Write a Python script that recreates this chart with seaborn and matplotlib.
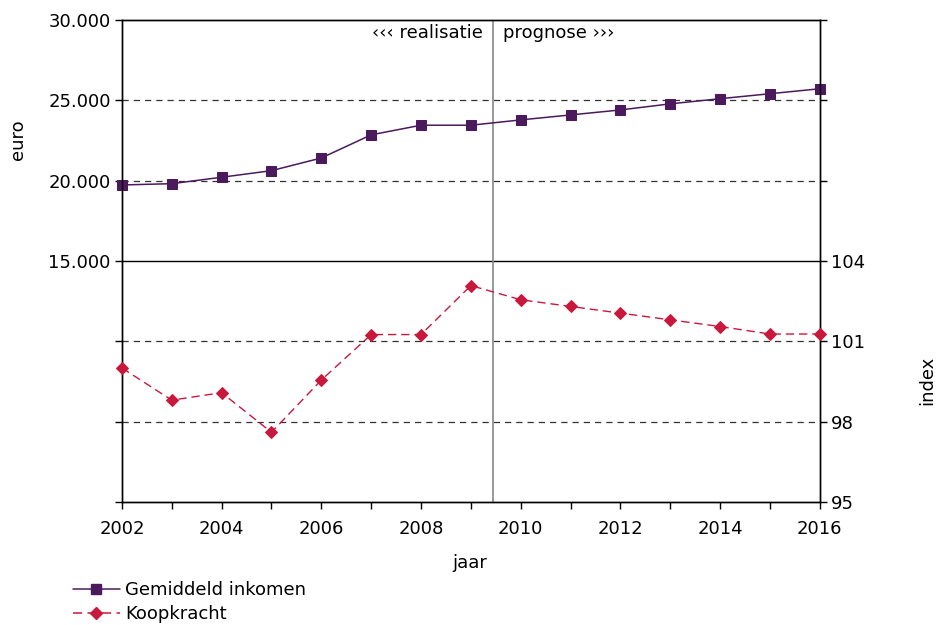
import pandas as pd
import matplotlib
matplotlib.use('Agg')
import matplotlib.pyplot as plt
from matplotlib.lines import Line2D
import seaborn as sns

# 数据
jaren = list(range(2002, 2017))
inkomen = [19730, 19810, 20210, 20620, 21410, 22850, 23450, 23450,
           23780, 24090, 24400, 24780, 25100, 25410, 25720]
koopkracht = [100.0, 98.8, 99.08, 97.6, 99.55, 101.25, 101.25, 103.08,
              102.55, 102.3, 102.05, 101.8, 101.55, 101.27, 101.27]

euro_ticks = [0, 5000, 10000, 15000, 20000, 25000, 30000]
euro_labels = ['', '', '', '15.000', '20.000', '25.000', '30.000']
index_ticks = [95, 98, 101, 104, 107, 110, 113]
index_labels = ['95', '98', '101', '104', '', '', '']

paars = '#4a1a5c'
rood = '#c8193c'


def main():
    sns.set_style('white')
    plt.rcParams['font.family'] = ['DejaVu Sans']
    plt.rcParams['font.size'] = 13
    plt.rcParams['text.color'] = 'black'
    plt.rcParams['xtick.color'] = 'black'
    plt.rcParams['ytick.color'] = 'black'
    plt.rcParams['axes.labelcolor'] = 'black'

    df = pd.DataFrame({'jaar': jaren, 'inkomen': inkomen, 'koopkracht': koopkracht})

    fig = plt.figure(figsize=(9.38, 6.25), dpi=100)
    ax = fig.add_axes([0.130, 0.197, 0.744, 0.771])
    ax2 = ax.twinx()

    # gridlijnen
    for v in [5000, 10000, 20000, 25000]:
        ax.axhline(v, color='#333333', lw=0.9, dashes=(5, 4), zorder=1)
    ax.axhline(15000, color='black', lw=1.0, zorder=1)
    ax.axvline(2009.45, color='#888888', lw=1.2, zorder=1)

    sns.lineplot(data=df, x='jaar', y='inkomen', ax=ax, color=paars, lw=1.1,
                 marker='s', markersize=7, markeredgecolor=paars, clip_on=False, zorder=3)
    sns.lineplot(data=df, x='jaar', y='koopkracht', ax=ax2, color=rood, lw=1.0,
                 marker='D', markersize=6, markeredgecolor=rood, clip_on=False, zorder=3)
    ax2.lines[-1].set_dashes((6, 3.5))

    ax.set_xlim(2002, 2016)
    ax.set_ylim(0, 30000)
    ax2.set_ylim(95, 113)
    ax.set_yticks(euro_ticks)
    ax.set_yticklabels(euro_labels)
    ax2.set_yticks(index_ticks)
    ax2.set_yticklabels(index_labels)
    ax.set_xticks(range(2002, 2017, 2))
    ax.set_xticks(range(2002, 2017), minor=True)
    ax.set_xticklabels([str(j) for j in range(2002, 2017, 2)])

    ax.tick_params(axis='y', direction='out', length=5, width=1, pad=3, left=True)
    ax2.tick_params(axis='y', direction='out', length=5, width=1, pad=3, right=True)
    ax.tick_params(axis='x', which='both', direction='out', length=5, width=1, pad=8, bottom=True)

    for a in (ax, ax2):
        for s in a.spines.values():
            s.set_color('black')
            s.set_linewidth(1.0)

    ax.set_xlabel('')
    ax.set_ylabel('')
    ax2.set_ylabel('')
    fig.text(0.019, 0.776, 'euro', rotation=90, ha='center', va='center', fontsize=13)
    fig.text(0.989, 0.392, 'index', rotation=90, ha='center', va='center', fontsize=13)
    fig.text(0.501, 0.099, 'jaar', ha='center', va='center', fontsize=13)

    ax.text(2009.25, 29200, '\u2039\u2039\u2039 realisatie', ha='right', va='center', fontsize=13)
    ax.text(2009.65, 29200, 'prognose \u203a\u203a\u203a', ha='left', va='center', fontsize=13)

    handles = [
        Line2D([], [], color=paars, lw=1.1, marker='s', markersize=7),
        Line2D([], [], color=rood, lw=1.1, marker='D', markersize=6, dashes=(6, 3.5)),
    ]
    fig.legend(handles, ['Gemiddeld inkomen', 'Koopkracht'], loc='upper left',
               bbox_to_anchor=(0.068, 0.085), frameon=False, fontsize=13,
               handlelength=2.6, handletextpad=0.3, labelspacing=0.35, borderpad=0)

    fig.savefig('out.png', dpi=100)


if __name__ == '__main__':
    main()
